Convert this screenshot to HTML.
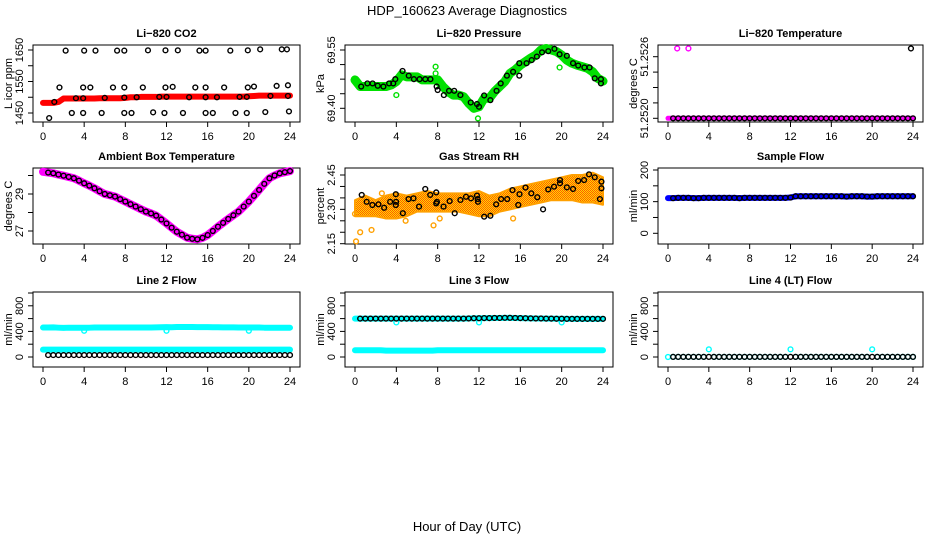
<!DOCTYPE html>
<html><head><meta charset="utf-8"><title>HDP_160623 Average Diagnostics</title>
<style>
html,body{margin:0;padding:0;background:#fff;}
svg{display:block;font-family:"Liberation Sans",Arial,sans-serif;}
</style></head>
<body>
<svg id="fig" width="936" height="540" viewBox="0 0 936 540" xmlns="http://www.w3.org/2000/svg">
<defs>
<pattern id="rhPat" width="2" height="2" patternUnits="userSpaceOnUse">
<rect width="2" height="2" fill="#ffd800"/><rect width="1" height="1" fill="#ff5a00"/><rect x="1" y="1" width="1" height="1" fill="#ff5a00"/>
</pattern>
</defs>
<text x="467" y="15" text-anchor="middle" font-size="13">HDP_160623  Average Diagnostics</text>
<text x="467" y="531" text-anchor="middle" font-size="13">Hour of Day (UTC)</text>
</svg>
<script>
// ---------- shared time axis (half-hourly) ----------
const hours = [0,0.5,1,1.5,2,2.5,3,3.5,4,4.5,5,5.5,6,6.5,7,7.5,8,8.5,9,9.5,10,10.5,11,11.5,12,12.5,13,13.5,14,14.5,15,15.5,16,16.5,17,17.5,18,18.5,19,19.5,20,20.5,21,21.5,22,22.5,23,23.5,24];
const xTicks = [0,4,8,12,16,20,24];
const hourly = [0,1,2,3,4,5,6,7,8,9,10,11,12,13,14,15,16,17,18,19,20,21,22,23,24];

// ---------- Li-820 CO2 ----------
const co2Red = [1482,1482,1482,1485,1496,1496,1496,1496,1496,1496,1496,1497,1497,1497,1497,1497,1498,1500,1500,1501,1501,1501,1501,1502,1502,1502,1502,1502,1502,1502,1502,1502,1502,1502,1502,1502,1502,1502,1502,1502,1503,1504,1505,1505,1505,1505,1505,1505,1505];
const co2BlackT = [2.2,4.0,5.1,7.2,7.9,10.2,11.9,13.1,15.2,15.8,18.2,19.9,21.1,23.2,23.7, 1.6,3.9,4.6,6.8,7.9,9.7,11.9,12.6,14.8,15.8,17.6,19.9,20.5,22.7,23.8, 0.6,2.8,3.9,5.7,7.9,8.6,10.7,11.8,13.6,15.8,16.5,18.7,19.8,21.6,23.9, 1.1,3.2,3.9,6.0,7.9,9.1,11.3,12.0,14.2,15.8,16.9,19.1,19.8,22.1,23.8];
const co2BlackV = [1648,1648,1648,1648,1648,1649,1649,1649,1648,1648,1648,1649,1652,1652,1652, 1531,1531,1531,1531,1531,1531,1531,1533,1531,1531,1531,1531,1534,1536,1538, 1434,1450,1450,1450,1450,1450,1452,1450,1450,1450,1450,1450,1450,1453,1455, 1485,1497,1497,1498,1499,1500,1501,1501,1500,1500,1500,1501,1501,1504,1504];
const co2Ticks = [1450,1500,1550,1600,1650];
const co2Labels = ["1450","1550","1650"];

// ---------- Li-820 Pressure ----------
const presGreen = [69.473,69.456,69.456,69.456,69.456,69.456,69.456,69.460,69.469,69.486,69.481,69.481,69.481,69.473,69.473,69.473,69.473,69.456,69.443,69.434,69.434,69.430,69.413,69.400,69.404,69.426,69.426,69.443,69.456,69.469,69.490,69.499,69.511,69.520,69.529,69.537,69.550,69.554,69.550,69.546,69.537,69.524,69.516,69.511,69.507,69.503,69.494,69.477,69.470];
const presOutT = [4.0,7.8,7.8,11.9,19.8];
const presOutV = [69.434,69.507,69.490,69.374,69.505];
const presBlackT = [0.6,1.2,1.7,2.2,2.75,3.3,3.7,3.9,4.6,5.2,5.7,6.25,6.8,7.3,7.9,8.0,8.6,9.1,9.6,10.2,11.2,11.8,12.0,12.5,13.1,13.7,14.1,14.7,15.3,15.9,15.9,16.6,17.1,17.6,18.1,18.7,19.3,19.8,20.5,21.1,21.6,22.2,22.7,23.2,23.8,23.8];
const presBlackV = [69.456,69.464,69.464,69.458,69.456,69.464,69.464,69.475,69.496,69.484,69.475,69.475,69.475,69.475,69.456,69.447,69.434,69.445,69.445,69.434,69.415,69.411,69.404,69.433,69.421,69.445,69.464,69.484,69.494,69.516,69.484,69.516,69.524,69.533,69.544,69.547,69.553,69.539,69.535,69.516,69.510,69.505,69.505,69.477,69.475,69.464];
const presTicks = [69.40,69.4375,69.475,69.5125,69.55];
const presLabels = ["69.40","69.55"];

// ---------- Li-820 Temperature ----------
const tempMag = [51.2520,51.2520,51.2520,51.2520,51.2520,51.2520,51.2520,51.2520,51.2520,51.2520,51.2520,51.2520,51.2520,51.2520,51.2520,51.2520,51.2520,51.2520,51.2520,51.2520,51.2520,51.2520,51.2520,51.2520,51.2520,51.2520,51.2520,51.2520,51.2520,51.2520,51.2520,51.2520,51.2520,51.2520,51.2520,51.2520,51.2520,51.2520,51.2520,51.2520,51.2520,51.2520,51.2520,51.2520,51.2520,51.2520,51.2520,51.2520,51.2520];
const tempMagOutT = [0.9,2.0];
const tempMagOutV = [51.25268,51.25268];
const tempBlackOutT = [23.8];
const tempBlackOutV = [51.25268];
const tempTicks = [51.2520,51.25215,51.2523,51.25245,51.2526];
const tempLabels = ["51.2520","51.2526"];

// ---------- Ambient Box Temperature ----------
const ambMag = [30.2,30.16,30.12,30.05,29.99,29.92,29.85,29.72,29.58,29.45,29.31,29.15,29.0,28.93,28.86,28.72,28.59,28.45,28.32,28.18,28.05,27.95,27.83,27.62,27.41,27.18,26.96,26.8,26.64,26.58,26.55,26.63,26.78,27.0,27.23,27.44,27.65,27.85,28.05,28.32,28.59,28.9,29.22,29.55,29.85,30.0,30.12,30.18,30.24];
const ambTicks = [27,28,29,30];
const ambLabels = ["27","29"];

// ---------- Gas Stream RH ----------
const rhUpper = [2.34,2.36,2.34,2.36,2.37,2.36,2.37,2.38,2.37,2.37,2.37,2.37,2.38,2.36,2.37,2.39,2.40,2.41,2.42,2.43,2.44,2.45,2.45,2.46,2.44];
const rhLower = [2.27,2.27,2.27,2.26,2.26,2.27,2.29,2.29,2.29,2.29,2.29,2.28,2.27,2.27,2.29,2.30,2.31,2.32,2.33,2.34,2.34,2.34,2.33,2.33,2.32];
const rhOutT = [0.1,0.5,1.6,2.6,7.6,8.2,15.3,23.3,0.0,4.9];
const rhOutV = [2.16,2.20,2.21,2.37,2.23,2.26,2.26,2.34,2.28,2.25];
const rhBlackT = [0.65,1.13,1.68,2.27,2.82,3.4,3.95,3.95,3.98,4.63,5.18,5.66,6.2,6.8,7.28,7.86,7.93,7.86,8.57,9.16,9.65,10.2,10.74,11.23,11.8,11.87,11.9,12.5,13.1,13.66,14.14,14.73,15.24,15.8,15.92,16.5,17.06,17.64,18.2,18.7,19.26,19.84,19.84,20.5,21.1,21.6,22.17,22.65,23.2,23.7,23.85,23.85];
const rhBlackV = [2.363,2.333,2.319,2.322,2.307,2.333,2.366,2.319,2.333,2.283,2.345,2.348,2.312,2.389,2.363,2.374,2.333,2.326,2.312,2.336,2.283,2.341,2.355,2.348,2.36,2.345,2.333,2.268,2.272,2.322,2.345,2.345,2.384,2.319,2.366,2.395,2.37,2.353,2.30,2.387,2.399,2.428,2.414,2.396,2.389,2.424,2.428,2.453,2.44,2.345,2.421,2.392];
const rhTicks = [2.15,2.20,2.25,2.30,2.35,2.40,2.45];
const rhLabels = ["2.15","2.30","2.45"];

// ---------- Sample Flow ----------
const sampleBlue = [111,111,112,112,112,111,111,112,112,112,112,112,112,112,111,112,112,112,112,112,112,112,112,112,113,117,117,117,117,117,117,117,117,117,117,116,117,117,117,116,116,117,117,117,117,117,117,117,117];
const flowTicks200 = [0,50,100,150,200];
const flowLabels200 = ["0","100","200"];

// ---------- Line 2 Flow ----------
const line2Top = [460,460,462,458,455,458,458,458,458,458,460,460,460,460,460,460,460,460,460,460,460,460,462,465,466,465,468,468,468,468,466,466,466,464,464,462,462,462,460,460,460,460,460,458,458,458,458,458,458];
const line2OutT = [4,12,20];
const line2OutV = [410,410,410];
const line2Mid = [115,115,115,115,115,115,115,115,115,115,115,115,115,115,115,115,115,115,115,115,115,115,115,115,115,115,115,115,115,115,115,115,115,115,115,115,115,115,115,115,115,115,115,115,115,115,115,115,115];
const line2Black = [30,30,30,30,30,30,30,30,30,30,30,30,30,30,30,30,30,30,30,30,30,30,30,30,30,30,30,30,30,30,30,30,30,30,30,30,30,30,30,30,30,30,30,30,30,30,30,30,30];
const flowTicks1000 = [0,200,400,600,800,1000];
const flowLabels1000 = ["0","400","800"];

// ---------- Line 3 Flow ----------
const line3Top = [600,600,600,600,600,600,600,600,600,600,600,600,600,600,600,600,600,600,600,600,600,600,602,605,606,608,608,610,610,612,612,610,608,606,604,602,602,600,600,598,598,596,596,596,596,596,596,596,596];
const line3OutT = [4,12,20];
const line3OutV = [540,540,540];
const line3Bottom = [105,105,105,105,105,105,100,100,100,100,100,100,100,100,100,100,105,105,105,105,105,105,105,105,105,105,105,105,105,105,105,105,105,105,105,105,105,105,105,105,105,105,105,105,105,105,105,105,105];

// ---------- Line 4 (LT) Flow ----------
const line4Vals = [0,2,2,2,2,2,2,2,120,2,2,2,2,2,2,2,2,2,2,2,2,2,2,2,120,2,2,2,2,2,2,2,2,2,2,2,2,2,2,2,120,2,2,2,2,2,2,2,2];
const line4Black = [2,2,2,2,2,2,2,2,2,2,2,2,2,2,2,2,2,2,2,2,2,2,2,2,2,2,2,2,2,2,2,2,2,2,2,2,2,2,2,2,2,2,2,2,2,2,2,2,2];

// ================= drawing =================
const NS = "http://www.w3.org/2000/svg";
const svg = document.getElementById("fig");
function mk(tag, attrs, parent){
  const e = document.createElementNS(NS, tag);
  for (const k in attrs) e.setAttribute(k, attrs[k]);
  (parent||svg).appendChild(e);
  return e;
}
const cols = [{x0:43,x24:290},{x0:355,x24:603},{x0:668,x24:913}];
const rows = [{top:45,bot:122},{top:168,bot:244},{top:292,bot:367}];

function makePanel(p){
  const c = cols[p.col], r = rows[p.row];
  const g = mk("g", {});
  
  
  const left = c.x0 - 10, right = c.x24 + 10;
  const sx = h => c.x0 + (h/24)*(c.x24 - c.x0);
  const sy = v => p.py0 + (v - p.v0)*(p.py1 - p.py0)/(p.v1 - p.v0);
  const box = mk("rect", {x:left, y:r.top, width:right-left, height:r.bot-r.top, fill:"none", stroke:"#000", "stroke-width":1}, g);
  
  
  const t = mk("text", {x:(left+right)/2, y:r.top-8, "text-anchor":"middle", "font-size":11, "font-weight":"bold"}, g);
  t.textContent = p.title;
  
  
  const xa = mk("g", {}, g);
  
  
  mk("line", {x1:sx(xTicks[0]), x2:sx(xTicks[xTicks.length-1]), y1:r.bot, y2:r.bot, stroke:"#000"}, xa);
  xTicks.forEach(h => {
    mk("line", {x1:sx(h), x2:sx(h), y1:r.bot, y2:r.bot+5, stroke:"#000"}, xa);
    const tl = mk("text", {x:sx(h), y:r.bot+18, "text-anchor":"middle", "font-size":11}, xa);
    tl.textContent = String(h);
    
    
  });
  const ya = mk("g", {}, g);
  
  
  mk("line", {x1:left, x2:left, y1:sy(p.ticks[0]), y2:sy(p.ticks[p.ticks.length-1]), stroke:"#000"}, ya);
  p.ticks.forEach(v => mk("line", {x1:left-5, x2:left, y1:sy(v), y2:sy(v), stroke:"#000"}, ya));
  p.labels.forEach(l => {
    const yy = sy(parseFloat(l)), xx = left-10;
    const tl = mk("text", {x:xx, y:yy, "text-anchor":"middle", "font-size":11, transform:`rotate(-90 ${xx} ${yy})`}, ya);
    tl.textContent = l;
    
    
  });
  const tx = left-21, ty = (r.top+r.bot)/2;
  const yt = mk("text", {x:tx, y:ty, "text-anchor":"middle", "font-size":11, transform:`rotate(-90 ${tx} ${ty})`}, g);
  yt.textContent = p.ylab;
  
  
  return {g, sx, sy};
}
function band(P, ts, vs, color, w, name){
  const pts = ts.map((h,i)=>P.sx(h)+","+P.sy(vs[i])).join(" ");
  const e = mk("polyline", {points:pts, fill:"none", stroke:color, "stroke-width":w, "stroke-linejoin":"round", "stroke-linecap":"round"}, P.g);
  
  
}
function circles(P, ts, vs, color, name, start){
  const g = mk("g", {}, P.g);
  
  
  for (let i = (start||0); i < ts.length; i++){
    mk("circle", {cx:P.sx(ts[i]), cy:P.sy(vs[i]), r:2.4, fill:"none", stroke:color, "stroke-width":1.4}, g);
  }
}

let P = makePanel({name:"co2-panel", col:0,row:0,title:"Li\u2212820 CO2",ylab:"L icor ppm",v0:1650,py0:50,v1:1450,py1:113,ticks:co2Ticks,labels:co2Labels});
band(P, hours, co2Red, "#ff0000", 6, "co2-red-series");
circles(P, co2BlackT, co2BlackV, "#000", "co2-black-points");

P = makePanel({name:"pressure-panel", col:1,row:0,title:"Li\u2212820 Pressure",ylab:"kPa",v0:69.55,py0:50,v1:69.40,py1:108.3,ticks:presTicks,labels:presLabels});
band(P, hours, presGreen, "#00e000", 9, "pressure-green-series");
circles(P, presOutT, presOutV, "#00e000", "pressure-green-outliers");
circles(P, presBlackT, presBlackV, "#000", "pressure-black-points");

P = makePanel({name:"temperature-panel", col:2,row:0,title:"Li\u2212820 Temperature",ylab:"degrees C",v0:51.2526,py0:56.7,v1:51.2520,py1:118.3,ticks:tempTicks,labels:tempLabels});
band(P, hours, tempMag, "#ff00ff", 5, "temperature-magenta-series");
circles(P, hours, tempMag, "#000", "temperature-black-points", 1);
circles(P, tempMagOutT, tempMagOutV, "#ff00ff", "temperature-magenta-outliers");
circles(P, tempBlackOutT, tempBlackOutV, "#000", "temperature-black-outliers");

P = makePanel({name:"ambient-temp-panel", col:0,row:1,title:"Ambient Box Temperature",ylab:"degrees C",v0:29,py0:194,v1:27,py1:231,ticks:ambTicks,labels:ambLabels});
band(P, hours, ambMag, "#ff00ff", 8, "ambient-magenta-series");
circles(P, hours, ambMag, "#000", "ambient-black-points", 1);

P = makePanel({name:"rh-panel", col:1,row:1,title:"Gas Stream RH",ylab:"percent",v0:2.45,py0:175,v1:2.15,py1:243.7,ticks:rhTicks,labels:rhLabels});
{
  const up = hourly.map((h,i)=>P.sx(h)+","+P.sy(rhUpper[i]));
  const lo = hourly.map((h,i)=>P.sx(h)+","+P.sy(rhLower[i])).reverse();
  const e = mk("polygon", {points:up.concat(lo).join(" "), fill:"url(#rhPat)", stroke:"#ffa000", "stroke-width":2, "stroke-linejoin":"round"}, P.g);
  
  
}
circles(P, rhOutT, rhOutV, "#ffa000", "rh-orange-outliers");
circles(P, rhBlackT, rhBlackV, "#000", "rh-black-points");

P = makePanel({name:"sample-flow-panel", col:2,row:1,title:"Sample Flow",ylab:"ml/min",v0:200,py0:170,v1:0,py1:233.3,ticks:flowTicks200,labels:flowLabels200});
band(P, hours, sampleBlue, "#0000ff", 6, "sample-blue-series");
circles(P, hours, sampleBlue, "#000", "sample-black-points", 1);

P = makePanel({name:"line2-flow-panel", col:0,row:2,title:"Line 2 Flow",ylab:"ml/min",v0:1000,py0:293,v1:0,py1:357,ticks:flowTicks1000,labels:flowLabels1000});
band(P, hours, line2Top, "#00ffff", 6, "line2-cyan-upper");
circles(P, line2OutT, line2OutV, "#00ffff", "line2-cyan-outliers");
band(P, hours, line2Mid, "#00ffff", 6, "line2-cyan-lower");
circles(P, hours, line2Black, "#000", "line2-black-points", 1);

P = makePanel({name:"line3-flow-panel", col:1,row:2,title:"Line 3 Flow",ylab:"ml/min",v0:1000,py0:293,v1:0,py1:357,ticks:flowTicks1000,labels:flowLabels1000});
band(P, hours, line3Top, "#00ffff", 6, "line3-cyan-upper");
circles(P, line3OutT, line3OutV, "#00ffff", "line3-cyan-outliers");
band(P, hours, line3Bottom, "#00ffff", 6, "line3-cyan-lower");
circles(P, hours, line3Top, "#000", "line3-black-points", 1);

P = makePanel({name:"line4-flow-panel", col:2,row:2,title:"Line 4 (LT) Flow",ylab:"ml/min",v0:1000,py0:293,v1:0,py1:357,ticks:flowTicks1000,labels:flowLabels1000});
circles(P, hours, line4Vals, "#00ffff", "line4-cyan-points");
circles(P, hours, line4Black, "#000", "line4-black-points", 1);
</script>
</body></html>
